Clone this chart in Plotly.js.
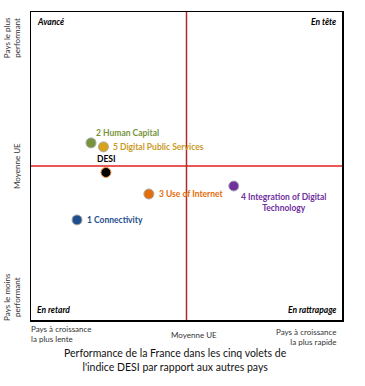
<!DOCTYPE html>
<html><head><meta charset="utf-8">
<script src="https://cdn.plot.ly/plotly-3.0.1.min.js"></script>
<style>body{margin:0;background:#fff}#c{width:365px;height:386px}</style>
</head><body><div id="c"></div>
<script>
const names = ["2 Human Capital","5 Digital Public Services","DESI","3 Use of Internet","4 Integration of Digital<br>Technology","1 Connectivity"];
const growth = [19.3, 23.3, 24.1, 37.9, 65.2, 14.8];
const perf = [57.5, 56.2, 47.9, 40.9, 43.5, 32.5];
const colors = ["#77933C","#D9A21B","#000000","#E46C0A","#7030A0","#1F4E8C"];
const labelColors = ["#77933C","#C99A1E","#000000","#E46C0A","#7030A0","#1F4E8C"];
const edgeColors = ["#aaa","#aaa","#F79646","#aaa","#aaa","#aaa"];
const quadrantLabels = ["Avancé","En tête","En retard","En rattrapage"];
const xTickLabels = ["Pays à croissance<br>la plus lente","Moyenne UE","Pays à croissance<br>la plus rapide"];
const yTickLabels = ["Pays le moins<br>performant","Moyenne UE","Pays le plus<br>performant"];
const euMean = 50;

const font = "Lato, Open Sans, sans-serif";
const traces = [{
  type:"scatter", mode:"markers", x:growth, y:perf,
  marker:{color:colors, size:10, line:{color:edgeColors, width:1}},
  hoverinfo:"skip", showlegend:false, cliponaxis:false
}];

// label placement: [xanchor, yanchor, xshift, yshift, align]
const lp = [["left","bottom",3,3,"left"],["left","middle",8,0,"left"],["center","bottom",1,6,"center"],
            ["left","middle",8,0,"left"],["left","top",5,-4,"center"],["left","middle",8,0,"left"]];
const ann = names.map((n,i)=>({x:growth[i],y:perf[i],xref:"x",yref:"y",text:i===2?"<b>"+n+"</b>":n,showarrow:false,
  xanchor:lp[i][0],yanchor:lp[i][1],xshift:lp[i][2],yshift:lp[i][3],align:lp[i][4],
  font:{size:8.5,family:font,color:labelColors[i],weight:700}}));
const qpos = [[0,100,"left","top"],[100,100,"right","top"],[0,0,"left","bottom"],[100,0,"right","bottom"]];
quadrantLabels.forEach((t,i)=>ann.push({x:qpos[i][0],y:qpos[i][1],xref:"x",yref:"y",text:"<b><i>"+t+"</i></b>",
  showarrow:false,xanchor:qpos[i][2],yanchor:qpos[i][3],xshift:qpos[i][2]==="left"?4:-4,yshift:qpos[i][3]==="top"?-3:3,
  font:{size:8.5,family:font,color:"#000"}}));
const xAl = ["left","center","right"];
const xSh = [-2,7,-3], ySh = [-2,-8,-5];
xTickLabels.forEach((t,i)=>ann.push({x:[0,euMean,100][i],y:0,xref:"x",yref:"paper",text:t,showarrow:false,
  xanchor:xAl[i],yanchor:"top",yshift:ySh[i],xshift:xSh[i],align:xAl[i],font:{size:8,family:font,color:"#333"}}));
yTickLabels.forEach((t,i)=>ann.push({x:0,xref:"paper",y:[7.5,euMean,91.5][i],yref:"y",text:t,showarrow:false,
  textangle:-90,xanchor:"right",yanchor:"middle",xshift:-7,font:{size:8,family:font,color:"#333"}}));
ann.push({x:0.465,y:0,xref:"paper",yref:"paper",text:"Performance de la France dans les cinq volets de<br>l'indice DESI par rapport aux autres pays",
  showarrow:false,xanchor:"center",yanchor:"top",yshift:-25,font:{size:10.5,family:font,color:"#111"}});

const layout = {
  width:365,height:386,margin:{l:31,r:23,t:12,b:66},
  paper_bgcolor:"#fff",plot_bgcolor:"#fff",
  xaxis:{range:[0,100],showgrid:false,zeroline:false,showticklabels:false,ticks:"",showline:true,mirror:true,linecolor:"#000",linewidth:1.5,fixedrange:true},
  yaxis:{range:[0,100],showgrid:false,zeroline:false,showticklabels:false,ticks:"",showline:true,mirror:true,linecolor:"#000",linewidth:1.5,fixedrange:true},
  shapes:[
    {type:"line",xref:"x",yref:"y",x0:0,x1:100,y0:euMean,y1:euMean,line:{color:"#E0201F",width:1.5}},
    {type:"line",xref:"x",yref:"y",x0:euMean,x1:euMean,y0:0,y1:100,line:{color:"#B5282E",width:1.5}}
  ],
  annotations:ann, showlegend:false
};
Plotly.newPlot("c",traces,layout,{displayModeBar:false,staticPlot:true});
</script></body></html>
